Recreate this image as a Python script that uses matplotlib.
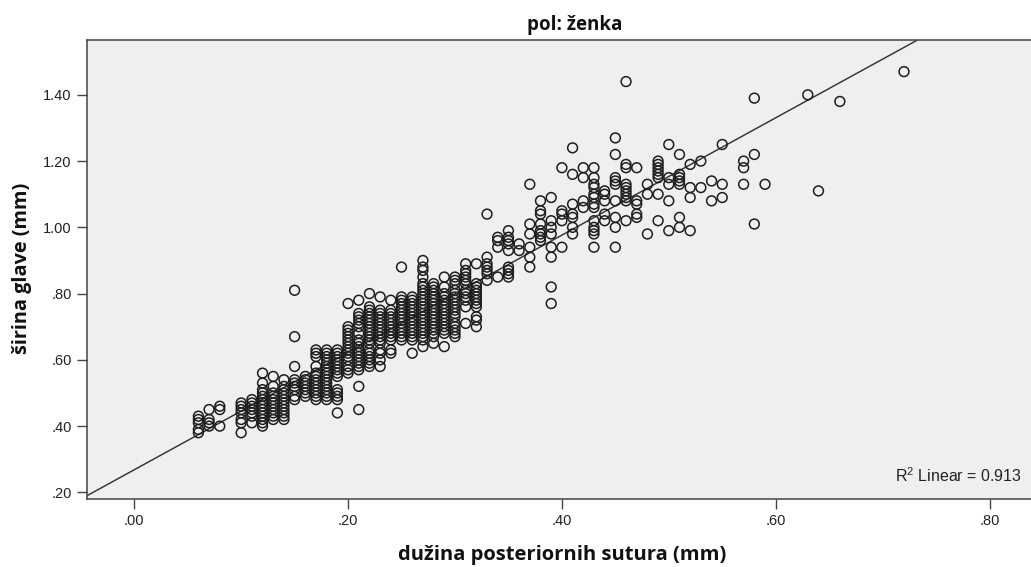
import matplotlib
matplotlib.use('Agg')
import matplotlib.pyplot as plt

plt.rcParams['font.family'] = ['Liberation Sans', 'DejaVu Sans']
plt.rcParams['mathtext.fontset'] = 'custom'
plt.rcParams['mathtext.rm'] = 'Liberation Sans'
plt.rcParams['mathtext.default'] = 'regular'

# values in hundredths of a mm, one list of y values for each x column
x_cols = [6, 7, 8, 10, 11, 12, 13, 14, 15, 16, 17, 18, 19, 20, 21, 22, 23, 24, 25, 26,
          27, 28, 29, 30, 31, 32, 33, 34, 35, 36, 37, 38, 39, 40, 41, 42, 43, 44, 45, 46,
          47, 48, 49, 50, 51, 52, 53, 54, 55, 57, 58, 59, 63, 64, 66, 72]
y_cols = [
    [43, 42, 41, 39, 38],
    [45, 42, 41, 40],
    [46, 45, 40],
    [47, 46, 45, 44, 42, 41, 38],
    [48, 47, 46, 45, 44, 43, 41],
    [56, 53, 51, 50, 49, 48, 47, 46, 45, 44, 43, 42, 41, 40],
    [55, 52, 50, 49, 48, 47, 46, 45, 44, 43, 42],
    [54, 52, 51, 50, 49, 48, 47, 46, 45, 44, 43, 42],
    [81, 67, 58, 54, 53, 52, 51, 49, 48],
    [55, 54, 53, 52, 51, 50, 49],
    [63, 62, 61, 58, 56, 55, 54, 53, 52, 51, 50, 49, 48],
    [63, 62, 61, 60, 59, 58, 57, 56, 55, 54, 53, 52, 51, 50, 49, 48],
    [63, 62, 61, 60, 59, 58, 57, 56, 55, 51, 50, 49, 48, 44],
    [77, 70, 69, 68, 67, 66, 65, 64, 63, 62, 61, 60, 58, 57, 56],
    [78, 74, 73, 72, 71, 70, 68, 66, 65, 64, 63, 62, 61, 60, 59, 58, 57, 52, 45],
    [80, 76, 75, 74, 73, 72, 71, 70, 69, 68, 67, 66, 65, 63, 62, 61, 60, 59, 58],
    [79, 75, 74, 73, 72, 71, 70, 69, 68, 67, 66, 65, 63, 62, 60, 58],
    [78, 75, 74, 73, 72, 71, 70, 69, 68, 67, 66, 63, 62],
    [88, 79, 78, 77, 76, 75, 74, 73, 72, 71, 70, 69, 68, 67, 66],
    [79, 78, 77, 76, 75, 74, 73, 72, 71, 70, 69, 68, 67, 66, 62],
    [90, 88, 87, 85, 83, 82, 81, 80, 79, 78, 77, 76, 75, 74, 73, 72, 71, 70, 69, 68, 67, 66, 64],
    [83, 82, 81, 80, 79, 78, 77, 76, 75, 74, 73, 72, 71, 70, 69, 68, 67, 65],
    [85, 82, 80, 79, 78, 77, 76, 75, 74, 73, 72, 71, 70, 69, 68, 64],
    [85, 84, 83, 81, 80, 79, 78, 77, 76, 75, 74, 73, 71, 70, 69, 68, 67],
    [89, 87, 86, 85, 84, 83, 81, 80, 79, 78, 76, 71],
    [89, 83, 82, 81, 80, 79, 78, 77, 76, 73, 72, 70],
    [104, 91, 89, 88, 87, 86, 84],
    [97, 96, 94, 85],
    [99, 97, 96, 95, 93, 88, 87, 86, 85],
    [95, 93],
    [113, 101, 98, 94, 91, 88],
    [108, 105, 104, 101, 99, 98, 97, 96],
    [109, 102, 100, 98, 94, 91, 82, 77],
    [118, 105, 104, 102, 94],
    [124, 116, 107, 104, 103, 100, 98],
    [118, 115, 108, 106],
    [118, 115, 113, 112, 110, 109, 107, 106, 102, 100, 99, 98, 94],
    [111, 110, 108, 104, 102],
    [127, 122, 115, 114, 113, 108, 103, 100, 94],
    [144, 119, 118, 113, 112, 111, 110, 109, 108, 102],
    [118, 108, 107, 104, 103],
    [113, 110, 98],
    [120, 119, 118, 117, 116, 115, 110, 102],
    [125, 115, 113, 108, 99],
    [122, 116, 115, 114, 113, 103, 100],
    [119, 112, 109, 99],
    [120, 112],
    [114, 108],
    [125, 113, 109],
    [120, 118, 113],
    [139, 122, 101],
    [113],
    [140],
    [111],
    [138],
    [147],
]

fit_x = [-0.0442, 0.7335]
fit_y = [0.19, 1.567]

x_ticks = [0.0, 0.2, 0.4, 0.6, 0.8]
x_labels = ['.00', '.20', '.40', '.60', '.80']
y_ticks = [0.2, 0.4, 0.6, 0.8, 1.0, 1.2, 1.4]
y_labels = ['.20', '.40', '.60', '.80', '1.00', '1.20', '1.40']

xs = []
ys = []
for i in range(len(x_cols)):
    for v in y_cols[i]:
        xs.append(x_cols[i] / 100)
        ys.append(v / 100)

fig = plt.figure(figsize=(10.31, 5.67), dpi=100)
ax = fig.add_axes([87 / 1031, 1 - 499 / 567, (1031 - 87) / 1031, (499 - 39.5) / 567])
ax.set_facecolor('#efefef')

ax.plot(fit_x, fit_y, color='#333333', lw=1.05, zorder=2)
ax.scatter(xs, ys, s=50, facecolors='none', edgecolors='#1e1e1e', linewidths=1.1, zorder=3)

ax.set_xlim(-0.0442, 0.8388)
ax.set_ylim(0.18, 1.567)
ax.set_xticks(x_ticks)
ax.set_xticklabels(x_labels)
ax.set_yticks(y_ticks)
ax.set_yticklabels(y_labels)
ax.tick_params(axis='both', length=7.5, width=1.0, color='#444444', labelsize=10.5,
               labelcolor='#222222', pad=3.5)
for side in ['left', 'bottom', 'top']:
    ax.spines[side].set_color('#444444')
    ax.spines[side].set_linewidth(1.1)
ax.spines['right'].set_visible(False)

label_font = ['Open Sans', 'DejaVu Sans']
fig.text(574.5 / 1031, 1 - 25 / 567, 'pol: ženka', ha='center', va='center',
         fontsize=13.5, fontweight='bold', color='#111111', family=label_font)
fig.text(562 / 1031, 1 - 555 / 567, 'dužina posteriornih sutura (mm)', ha='center', va='center',
         fontsize=14.5, fontweight='bold', color='#111111', family=label_font)
fig.text(22 / 1031, 1 - 268 / 567, 'širina glave (mm)', ha='center', va='center',
         rotation=90, fontsize=14.3, fontweight='bold', color='#111111', family=label_font)
fig.text(1022 / 1031, 1 - 476 / 567, 'R$^{2}$ Linear = 0.913', ha='right', va='center',
         fontsize=11.5, color='#222222')

fig.savefig('out.png', dpi=100)
